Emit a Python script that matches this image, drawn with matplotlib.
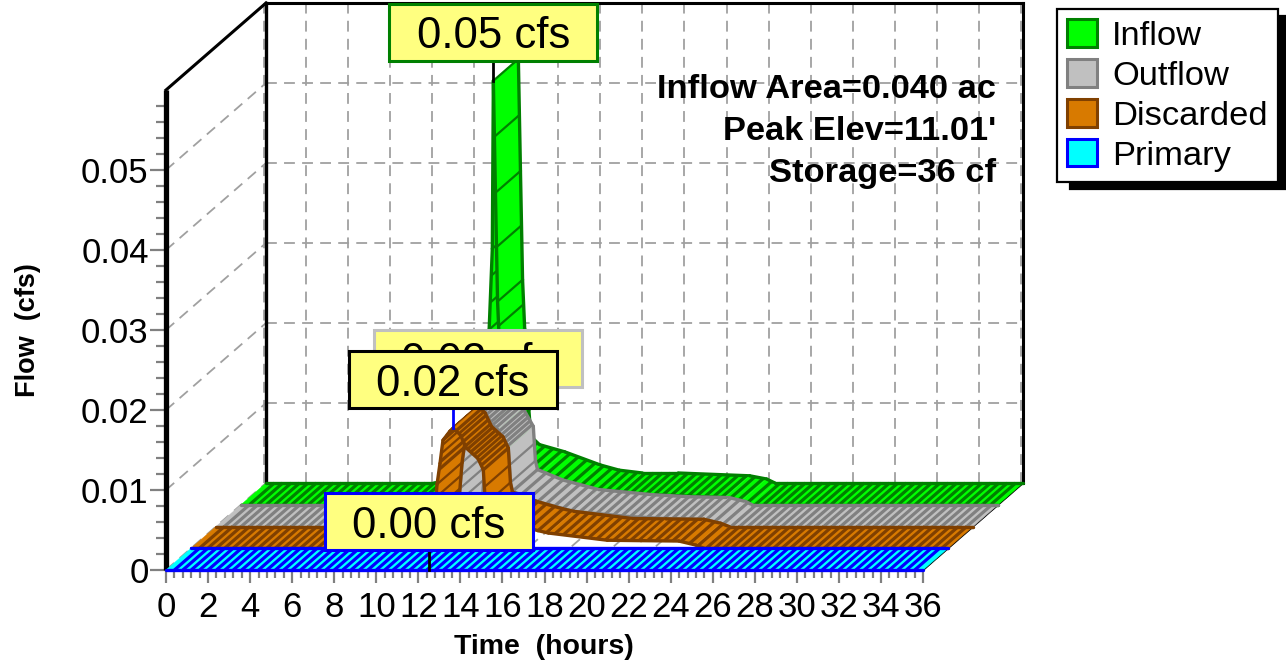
import matplotlib
matplotlib.use("Agg")
import matplotlib.pyplot as plt
import numpy as np
from matplotlib.patches import Patch, Polygon, Rectangle

plt.rcParams["font.family"] = ["Liberation Sans", "DejaVu Sans"]

# hydrographs (hours, cfs)
inflow_t = [0, 8, 10, 11, 11.5, 11.7, 11.8, 11.95, 12.0, 12.1, 12.2, 12.3, 12.5, 12.6,
            13, 14.2, 15.9, 16.8, 17.9, 19.6, 23, 23.8, 24.2, 36]
inflow_q = [0, 0, 0.0008, 0.0015, 0.003, 0.012, 0.0219, 0.032, 0.053, 0.039, 0.0254, 0.0193, 0.0091, 0.0058,
            0.0048, 0.0039, 0.00225, 0.0016, 0.00125, 0.00125, 0.0009, 0.0005, 0, 0]
outflow_t = [0, 11, 11.5, 11.7, 11.84, 11.98, 12.3, 12.46, 12.8, 13.1, 13.4, 13.9, 14.0, 14.1,
             15.3, 17, 19.6, 21.3, 23.2, 24, 24.3, 36]
outflow_q = [0, 0, 0.0015, 0.008, 0.0106, 0.0135, 0.0146, 0.015, 0.0142, 0.0128, 0.0121, 0.0098, 0.0055, 0.0044,
             0.0031, 0.0019, 0.00125, 0.001, 0.0009, 0.0004, 0, 0]
discarded_t = [0, 11, 11.5, 11.7, 11.84, 11.98, 12.3, 12.46, 12.8, 13.1, 13.65, 13.9, 14.0, 14.1,
               15.3, 16.5, 17, 19.8, 21.4, 23.2, 24, 24.4, 36]
discarded_q = [0, 0, 0.0015, 0.008, 0.0106, 0.0135, 0.0146, 0.015, 0.0142, 0.0125, 0.0112, 0.0098, 0.0055, 0.0043,
               0.0031, 0.0022, 0.0019, 0.001, 0.00095, 0.0009, 0.0004, 0, 0]
primary_t = [0, 36]
primary_q = [0, 0]

series_names = ["Inflow", "Outflow", "Discarded", "Primary"]
face_colors = ["#00ff00", "#c0c0c0", "#d87a00", "#00ffff"]
edge_colors = ["#008000", "#808080", "#804000", "#0000ff"]

peak_t = [12.0, 12.46, 12.46, 12.5]
peak_q = [0.053, 0.015, 0.015, 0.0]
peak_labels = ["0.05 cfs", "0.02 cfs", "0.02 cfs", "0.00 cfs"]
label_edges = ["#008000", "#c0c0c0", "#000000", "#0000ff"]
stem_colors = ["#000000", "#808080", "#0000ff", "#000000"]

info_lines = ["Inflow Area=0.040 ac", "Peak Elev=11.01'", "Storage=36 cf"]
x_ticks = list(range(0, 37, 2))
y_ticks = [0, 0.01, 0.02, 0.03, 0.04, 0.05]
y_tick_labels = ["0", "0.01", "0.02", "0.03", "0.04", "0.05"]

# pixel scale of the plot
W, H = 1286, 663
PX_T = 21.03
PX_Q = 8000.0
LEFT, BASE = 166, 570
DEPTH_T = 100 / PX_T
DEPTH_Q = 87 / PX_Q


def px_x(px):
    return (px - LEFT) / PX_T


def px_y(py):
    return (BASE - py) / PX_Q


def draw_ribbon(ax, times, flows, layer, face, edge):
    """one band of the 3D chart, painted left to right so later steps cover earlier ones"""
    t = np.array(times, dtype=float)
    q = np.array(flows, dtype=float)
    x_f, y_f = layer / 4 * DEPTH_T, layer / 4 * DEPTH_Q
    x_b, y_b = (layer + 1) / 4 * DEPTH_T, (layer + 1) / 4 * DEPTH_Q

    # stripes run front to back, thinned out where the steps are closer than a few px
    fine = np.arange(0, 36.001, 0.05)
    fine_q = np.interp(fine, t, q)
    top = q.max()
    stripes = []
    walked = 0.0
    for i in range(1, len(fine)):
        step = np.hypot((fine[i] - fine[i - 1]) * PX_T, (fine_q[i] - fine_q[i - 1]) * PX_Q)
        walked += step
        gap = 3.5 if (0 < top < 0.03 and fine_q[i] > 0.6 * top) else 8.0
        if walked >= gap:
            stripes.append((i, step > 8))
            walked = 0.0

    for i in range(len(t) - 1):
        quad = [(t[i] + x_f, q[i] + y_f), (t[i + 1] + x_f, q[i + 1] + y_f),
                (t[i + 1] + x_b, q[i + 1] + y_b), (t[i] + x_b, q[i] + y_b)]
        ax.add_patch(Polygon(quad, closed=True, facecolor=face, edgecolor=face, lw=0.3,
                             clip_on=False, zorder=3))
        for steep in [False, True]:
            sx, sy = [], []
            for j, is_steep in stripes:
                if is_steep == steep and t[i] <= fine[j] < t[i + 1]:
                    sx += [fine[j] + x_f, fine[j] + x_b, np.nan]
                    sy += [fine_q[j] + y_f, fine_q[j] + y_b, np.nan]
            ax.plot(sx, sy, color=edge, lw=1.6 if steep else 2.3, clip_on=False, zorder=3,
                    solid_capstyle="butt")
        ax.plot([t[i] + x_f, t[i + 1] + x_f], [q[i] + y_f, q[i + 1] + y_f],
                color=edge, lw=2.4, clip_on=False, zorder=3, solid_capstyle="round")
        ax.plot([t[i] + x_b, t[i + 1] + x_b], [q[i] + y_b, q[i + 1] + y_b],
                color=edge, lw=2.4, clip_on=False, zorder=3, solid_capstyle="round")


fig = plt.figure(figsize=(W / 100, H / 100), dpi=100)
ax = fig.add_axes([LEFT / W, (H - BASE) / H, 36 * PX_T / W, 0.06 * PX_Q / H])
ax.set_xlim(0, 36)
ax.set_ylim(0, 0.06)
ax.patch.set_visible(False)
for side in ["top", "right"]:
    ax.spines[side].set_visible(False)
ax.spines["bottom"].set_linewidth(1.5)

ax.set_xticks(x_ticks)
ax.set_xticks(np.arange(0, 36.01, 0.4), minor=True)
ax.set_yticks(y_ticks)
ax.set_yticklabels(y_tick_labels)
ax.set_yticks(np.arange(0, 0.0585, 0.002), minor=True)
ax.tick_params(axis="both", which="both", color="#808080", width=1.6, labelsize=25)
ax.tick_params(axis="x", which="major", length=9.5, pad=5.5)
ax.tick_params(axis="x", which="minor", length=6)
ax.tick_params(axis="y", which="major", length=11.5, pad=1)
ax.tick_params(axis="y", which="minor", length=7.2)
ax.set_xlabel("Time  (hours)", fontsize=20.5, fontweight="bold")
ax.set_ylabel("Flow  (cfs)", fontsize=19.5, fontweight="bold")
ax.xaxis.set_label_coords((544 - LEFT) / (36 * PX_T), (BASE - 634) / 480)
ax.yaxis.set_label_coords((41 - LEFT) / (36 * PX_T), (BASE - 330) / 480)

# walls and floor grid
grid = dict(color="#a0a0a0", lw=1.3, ls=(0, (6, 4)), clip_on=False, zorder=1)
for t in x_ticks:
    ax.plot([t + DEPTH_T - 0.1, t + DEPTH_T - 0.1], [DEPTH_Q, DEPTH_Q + 0.06], **grid)
    ax.plot([t, t + DEPTH_T], [0, DEPTH_Q], **grid)
for v in y_ticks[1:] + [0.06]:
    ax.plot([DEPTH_T, DEPTH_T + 36], [v + DEPTH_Q, v + DEPTH_Q], **grid)
for v in y_ticks[1:]:
    ax.plot([0, DEPTH_T], [v, v + DEPTH_Q], **grid)

wall = dict(color="black", clip_on=False, zorder=2)
ax.plot([DEPTH_T, DEPTH_T], [DEPTH_Q, DEPTH_Q + 0.06], lw=2.4, **wall)
ax.plot([36 + DEPTH_T, 36 + DEPTH_T], [DEPTH_Q, DEPTH_Q + 0.06], lw=2.2, **wall)
ax.plot([DEPTH_T, 36 + DEPTH_T], [DEPTH_Q + 0.06, DEPTH_Q + 0.06], lw=2.2, **wall)
ax.plot([0, DEPTH_T], [0.06, DEPTH_Q + 0.06], lw=2.2, **wall)
ax.plot([36, 36 + DEPTH_T], [0, DEPTH_Q], lw=1.4, **wall)
ax.plot([0, 0], [0, 0.06], lw=3.8, color="black", clip_on=False, zorder=2.5, solid_capstyle="butt")

# back to front
all_t = [inflow_t, outflow_t, discarded_t, primary_t]
all_q = [inflow_q, outflow_q, discarded_q, primary_q]
for k in range(4):
    layer = 3 - k
    draw_ribbon(ax, all_t[k], all_q[k], layer, face_colors[k], edge_colors[k])

# peak labels with their stems
box_w = 208 / PX_T
box_h = 57 / PX_Q
stem = 20 / PX_Q
for k in range(4):
    layer = 3 - k
    x = peak_t[k] + layer / 4 * DEPTH_T
    y = peak_q[k] + layer / 4 * DEPTH_Q
    ax.plot([x, x], [y, y + stem], color=stem_colors[k], lw=2.0, clip_on=False, zorder=5 + k)
    ax.add_patch(Rectangle((x - box_w / 2, y + stem), box_w, box_h, facecolor="#ffff80",
                           edgecolor=label_edges[k], lw=2.2, clip_on=False, zorder=5 + k))
    ax.text(x, y + stem + box_h / 2, peak_labels[k], fontsize=31.5, ha="center", va="center_baseline",
            zorder=5 + k)

for py, line in zip([89, 132, 174], info_lines):
    ax.text(px_x(996), px_y(py), line, fontsize=24.8, fontweight="bold", ha="right", va="center",
            zorder=4)

handles = [Patch(facecolor=f, edgecolor=e, lw=2.2, label=n)
           for f, e, n in zip(face_colors, edge_colors, series_names)]
leg = fig.legend(handles=handles, loc="upper left", bbox_to_anchor=(1057 / W, 1 - 9 / H),
                 bbox_transform=fig.transFigure, borderaxespad=0, fontsize=24.8, frameon=True,
                 fancybox=False, edgecolor="black", framealpha=1,
                 shadow=dict(ox=9.4, oy=-5, facecolor="black", edgecolor="black", alpha=1),
                 handlelength=0.85, handleheight=0.85, handletextpad=0.45, labelspacing=0.21,
                 borderpad=0.3)
leg.get_frame().set_linewidth(1.6)

fig.savefig("out.png", dpi=100)
